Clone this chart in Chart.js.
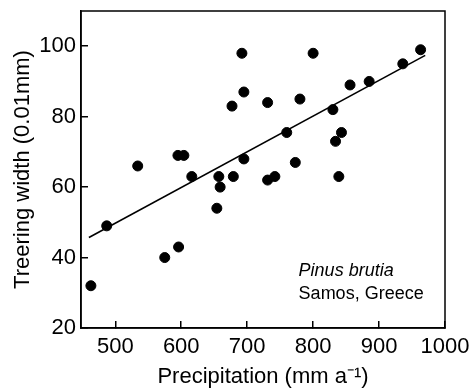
<!DOCTYPE html>
<html>
<head>
<meta charset="utf-8">
<script src="https://cdn.jsdelivr.net/npm/chart.js@4"></script>
<style>
  html, body { margin: 0; padding: 0; background: #fff; }
  canvas { display: block; }
</style>
</head>
<body>
<canvas id="chart" width="469" height="389"></canvas>
<script>
// precipitation (mm a-1) and tree ring width (0.01mm)
const precipitation = [463, 487, 534, 575, 595, 596, 604, 616, 654, 657, 659, 677, 679, 692, 695, 695,
  731, 731, 742, 760, 773, 780, 800, 830, 834, 839, 843, 856, 885, 936, 963];
const ringWidth = [32, 49, 66, 40, 69, 43, 69, 63, 54, 63, 60, 83, 63, 98, 87, 68,
  84, 62, 63, 75.5, 67, 85, 98, 82, 73, 63, 75.5, 89, 90, 95, 99];

// regression line end points
const fitX = [460, 970];
const fitY = [45.7, 97.4];

// axis ticks
const xTicks = [500, 600, 700, 800, 900, 1000];
const yTicks = [20, 40, 60, 80, 100];

// note in the lower right
const noteLines = ['Pinus brutia', 'Samos, Greece'];

Chart.defaults.font.family = '"Liberation Sans", Arial, Helvetica, sans-serif';
Chart.defaults.color = '#000';

// plain box round the plot area + the site note
const framePlugin = {
  id: 'frame',
  beforeDatasetsDraw(chart) {
    const { ctx, chartArea: a } = chart;
    ctx.save();
    ctx.strokeStyle = '#000';
    ctx.lineWidth = 1.5;
    ctx.strokeRect(a.left, a.top, a.right - a.left, a.bottom - a.top);
    ctx.restore();
  },
  afterDraw(chart) {
    const { ctx, scales } = chart;
    const x = scales.x.getPixelForValue(778);
    ctx.save();
    ctx.fillStyle = '#000';
    ctx.textBaseline = 'middle';
    ctx.textAlign = 'left';
    ctx.font = 'italic 18px "Liberation Sans", Arial, sans-serif';
    ctx.fillText(noteLines[0], x, scales.y.getPixelForValue(36.1));
    ctx.font = '18px "Liberation Sans", Arial, sans-serif';
    ctx.fillText(noteLines[1], x, scales.y.getPixelForValue(29.6));
    ctx.restore();
  }
};

const points = precipitation.map((p, i) => ({ x: p, y: ringWidth[i] }));
const fitLine = fitX.map((p, i) => ({ x: p, y: fitY[i] }));

const fixTicks = list => scale => {
  scale.ticks = list.map(v => ({ value: v }));
};

new Chart(document.getElementById('chart'), {
  type: 'scatter',
  data: {
    datasets: [
      {
        label: 'samples',
        data: points,
        pointRadius: 5,
        pointBorderWidth: 1,
        pointBackgroundColor: '#000',
        pointBorderColor: '#000'
      },
      {
        label: 'fit',
        data: fitLine,
        showLine: true,
        borderColor: '#000',
        borderWidth: 1.6,
        pointRadius: 0
      }
    ]
  },
  options: {
    responsive: false,
    animation: false,
    devicePixelRatio: 1,
    layout: { autoPadding: false, padding: { top: 11, right: 24, bottom: 0, left: 0 } },
    plugins: { legend: { display: false }, tooltip: { enabled: false } },
    scales: {
      x: {
        type: 'linear',
        min: 448,
        max: 1000,
        afterBuildTicks: fixTicks(xTicks),
        afterFit(scale) {
          scale.height = 61;
          scale.paddingLeft = 0; scale.paddingRight = 0;
          scale.paddingTop = 0; scale.paddingBottom = 0;
        },
        border: { display: true, color: '#000', width: 1.5 },
        grid: { drawOnChartArea: false, drawTicks: true, tickLength: -7, color: '#000', lineWidth: 1.5 },
        ticks: { padding: 13, maxRotation: 0, autoSkip: false, font: { size: 22 }, callback: v => String(v) },
        title: {
          display: true,
          text: 'Precipitation (mm a⁻¹)',
          font: { size: 22, lineHeight: 1 },
          padding: { top: 0, bottom: 1 }
        }
      },
      y: {
        type: 'linear',
        min: 20,
        max: 110,
        afterBuildTicks: fixTicks(yTicks),
        afterFit(scale) {
          scale.width = 81;
          scale.paddingLeft = 0; scale.paddingRight = 0;
          scale.paddingTop = 0; scale.paddingBottom = 0;
        },
        border: { display: true, color: '#000', width: 1.5 },
        grid: { drawOnChartArea: false, drawTicks: true, tickLength: -7, color: '#000', lineWidth: 1.5 },
        ticks: { padding: 12, autoSkip: false, font: { size: 22 }, callback: v => String(v) },
        title: {
          display: true,
          text: 'Treering width (0.01mm)',
          font: { size: 22, lineHeight: 1 },
          padding: { top: 12, bottom: 0 }
        }
      }
    }
  },
  plugins: [framePlugin]
});
</script>
</body>
</html>
